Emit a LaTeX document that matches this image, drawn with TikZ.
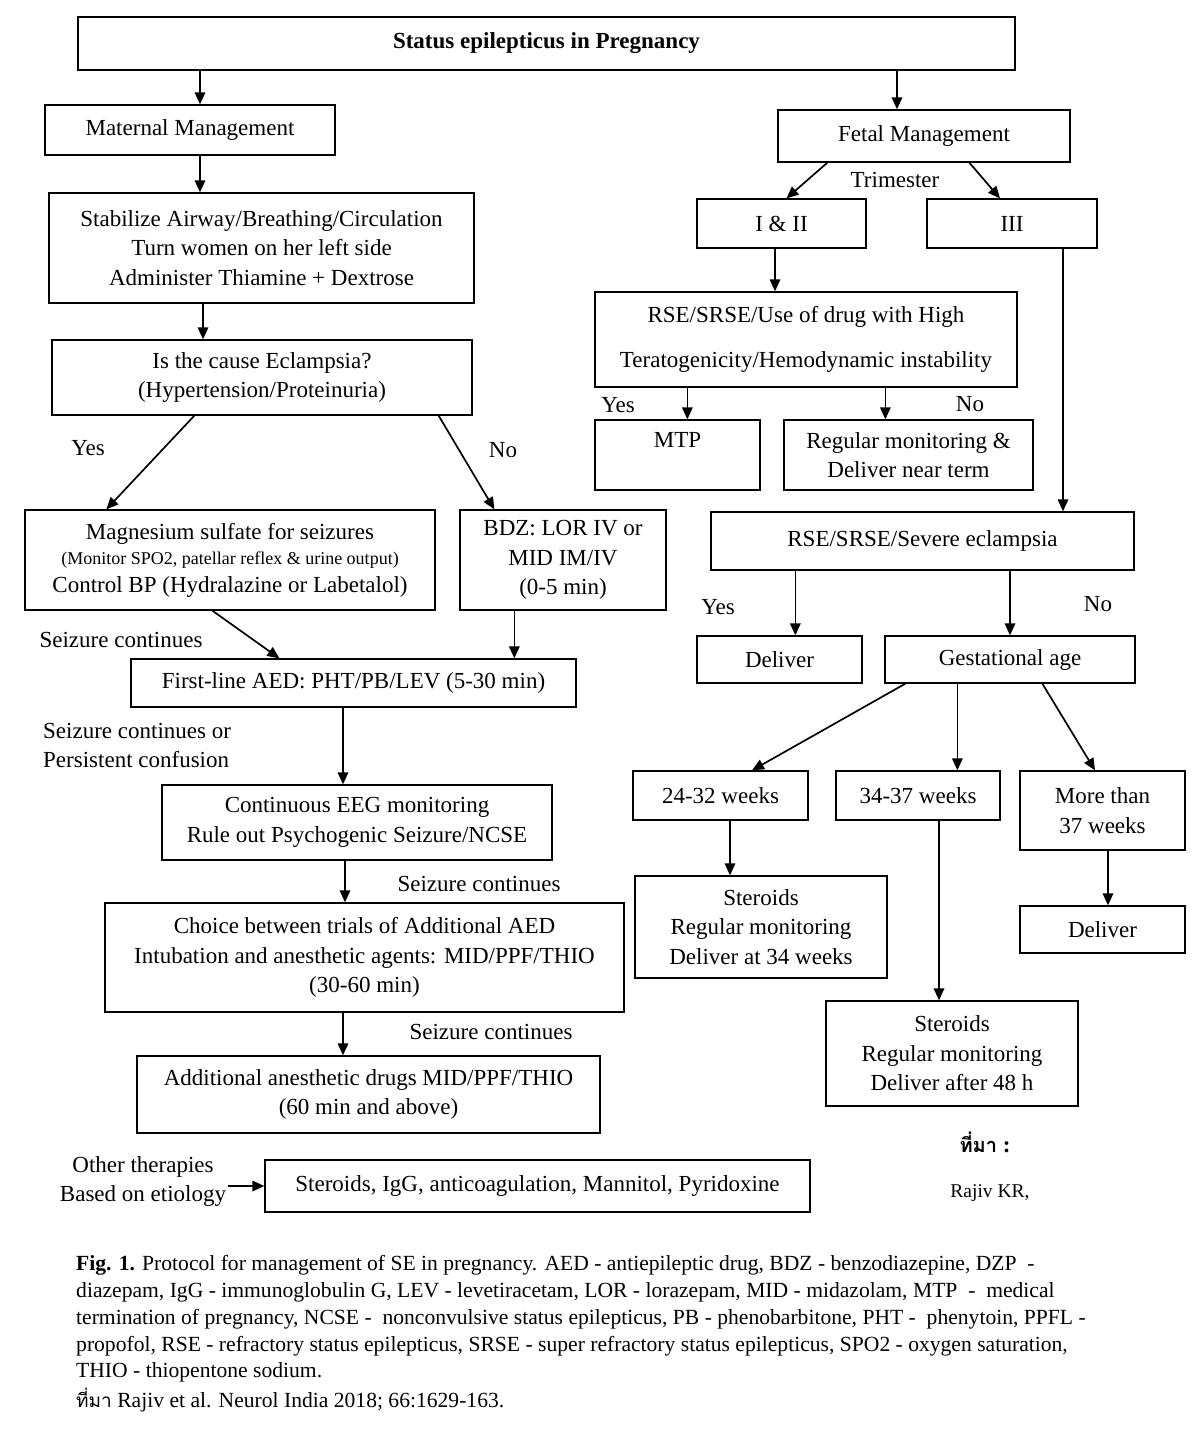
\documentclass[tikz,border=0pt]{standalone}
\usepackage{fontspec}
\setmainfont{Liberation Serif}
\newfontfamily\thaifont[Script=Thai]{Loma}
\usetikzlibrary{arrows.meta,calc}
\begin{document}
\begin{tikzpicture}[x=1pt,y=-1pt,
 box/.style={draw, line width=1.3pt, inner sep=0pt, align=center, font=\fontsize{23}{29.5}\selectfont},
 lbl/.style={inner sep=0pt, font=\fontsize{23}{29.5}\selectfont, align=center},
 arr/.style={line width=1.7pt, -{Triangle[length=12pt,width=10.5pt]}},
 captxt/.style={anchor=base west, inner sep=0pt, font=\fontsize{21.6}{27}\selectfont}]
\useasboundingbox[fill=white] (0,0) rectangle (1200,1430);

% ---------- left column ----------
\node[box, minimum width=937pt, minimum height=53pt] (title) at (546.5,43.5) {\bfseries Status epilepticus in Pregnancy};
\node[box, minimum width=290pt, minimum height=50pt] (mat) at (190,130) {Maternal Management};
\node[box, minimum width=425pt, minimum height=110pt] (stab) at (261.5,248) {Stabilize Airway/Breathing/Circulation\\Turn women on her left side\\Administer Thiamine + Dextrose};
\node[box, minimum width=420pt, minimum height=75pt] (ecl) at (262,377.5) {Is the cause Eclampsia?\\(Hypertension/Proteinuria)};
\node[box, minimum width=410pt, minimum height=100pt] (mag) at (230,560) {Magnesium sulfate for seizures\\[-4.5pt]{\fontsize{18}{22}\selectfont (Monitor SPO2, patellar reflex \& urine output)}\\[-1.5pt]Control BP (Hydralazine or Labetalol)};
\node[box, minimum width=206pt, minimum height=100pt] (bdz) at (563,560) {BDZ: LOR IV or\\MID IM/IV\\(0-5 min)};
\node[box, minimum width=445pt, minimum height=48pt] (first) at (353.5,683) {First-line AED: PHT/PB/LEV (5-30 min)};
\node[box, minimum width=390pt, minimum height=75pt] (eeg) at (357,822.5) {Continuous EEG monitoring\\Rule out Psychogenic Seizure/NCSE};
\node[box, minimum width=519pt, minimum height=109pt] (choice) at (364.5,957.5) {Choice between trials of Additional AED\\Intubation and anesthetic agents: MID/PPF/THIO\\(30-60 min)};
\node[box, minimum width=463pt, minimum height=77pt] (addl) at (368.5,1094.5) {Additional anesthetic drugs MID/PPF/THIO\\(60 min and above)};
\node[box, minimum width=545pt, minimum height=52pt] (other) at (537.5,1186) {Steroids, IgG, anticoagulation, Mannitol, Pyridoxine};

\node[lbl] (yesL) at (88,448) {Yes};
\node[lbl] (noL) at (503,450) {No};
\node[lbl] (sc1) at (121,640) {Seizure continues};
\node[lbl, anchor=west, align=left] (sc2) at (43,745.5) {Seizure continues or\\Persistent confusion};
\node[lbl] (sc3) at (479,884) {Seizure continues};
\node[lbl] (sc4) at (491,1032) {Seizure continues};
\node[lbl] (othtxt) at (143,1181.5) {Other therapies\\Based on etiology};

% ---------- right column ----------
\node[box, minimum width=292pt, minimum height=52pt] (fet) at (924,136) {Fetal Management};
\node[box, minimum width=169pt, minimum height=49pt] (t12) at (781.5,223.5) {I \& II};
\node[box, minimum width=170pt, minimum height=49pt] (t3) at (1012,223.5) {III};
\node[box, minimum width=422pt, minimum height=95pt] (rse1) at (806,339.5) {RSE/SRSE/Use of drug with High\\[15pt]Teratogenicity/Hemodynamic instability};
\node[box, minimum width=165pt, minimum height=70pt] (mtp) at (677.5,455) {MTP\\\mbox{}};
\node[box, minimum width=249pt, minimum height=70pt] (reg) at (908.5,455) {Regular monitoring \&\\Deliver near term};
\node[box, minimum width=423pt, minimum height=58pt] (rse2) at (922.5,541) {RSE/SRSE/Severe eclampsia};
\node[box, minimum width=165pt, minimum height=47pt] (del1) at (779.5,659.5) {Deliver};
\node[box, minimum width=250pt, minimum height=47pt] (gest) at (1010,659.5) {Gestational age};
\node[box, minimum width=175pt, minimum height=49pt] (w24) at (720.5,795.5) {24-32 weeks};
\node[box, minimum width=164pt, minimum height=49pt] (w34) at (918,795.5) {34-37 weeks};
\node[box, minimum width=165pt, minimum height=79pt] (w37) at (1102.5,810.5) {More than\\37 weeks};
\node[box, minimum width=252pt, minimum height=102pt] (st1) at (761,927) {Steroids\\Regular monitoring\\Deliver at 34 weeks};
\node[box, minimum width=252pt, minimum height=105pt] (st2) at (952,1053.5) {Steroids\\Regular monitoring\\Deliver after 48 h};
\node[box, minimum width=165pt, minimum height=47pt] (del2) at (1102.5,929.5) {Deliver};

\node[lbl] (trim) at (895,180) {Trimester};
\node[lbl] (yesR1) at (618,405) {Yes};
\node[lbl] (noR1) at (970,404) {No};
\node[lbl] (yesR2) at (718,607) {Yes};
\node[lbl] (noR2) at (1098,604) {No};
\node[lbl] (src) at (985,1142) {{\thaifont\bfseries\fontsize{20}{24}\selectfont ที่มา} \textbf{:}};
\node[lbl, font=\fontsize{19.5}{24}\selectfont] (rajiv) at (990,1193) {Rajiv KR,};

% ---------- connectors left ----------
\draw[arr] ([xshift=10pt]mat.north |- title.south) -- ([xshift=10pt]mat.north);
\draw[arr] ([xshift=-27pt]fet.north |- title.south) -- ([xshift=-27pt]fet.north);
\draw[arr] ([xshift=10pt]mat.south) -- ([xshift=10pt]mat.south |- stab.north);
\draw[arr] ([xshift=-58.5pt]stab.south) -- ([xshift=-58.5pt]stab.south |- ecl.north);
\draw[arr] ([xshift=143pt]ecl.south west) -- ([xshift=82pt]mag.north west);
\draw[arr] ([xshift=-34pt]ecl.south east) -- ([xshift=35pt]bdz.north west);
\draw[arr] ([xshift=188pt]mag.south west) -- ([xshift=149pt]first.north west);
\draw[arr] ([xshift=55pt]bdz.south west) -- ([xshift=55pt]bdz.south west |- first.north);
\draw[arr] ([xshift=-10.5pt]first.south) -- ([xshift=-10.5pt]first.south |- eeg.north);
\draw[arr] ([xshift=-12pt]eeg.south) -- ([xshift=-12pt]eeg.south |- choice.north);
\draw[arr] ([xshift=-21.5pt]choice.south) -- ([xshift=-21.5pt]choice.south |- addl.north);
\draw[arr] ([xshift=2pt]othtxt.east |- other.west) -- (other.west);

% ---------- connectors right ----------
\draw[arr] ([xshift=50pt]fet.south west) -- ([xshift=5pt]t12.north);
\draw[arr] ([xshift=192pt]fet.south west) -- ([xshift=-12pt]t3.north);
\draw[arr] ([xshift=-6.5pt]t12.south) -- ([xshift=-6.5pt]t12.south |- rse1.north);
\draw[arr] ([xshift=51pt]t3.south) -- ([xshift=51pt]t3.south |- rse2.north);
\draw[arr] ([xshift=93pt]rse1.south west) -- ([xshift=93pt]rse1.south west |- mtp.north);
\draw[arr] ([xshift=291pt]rse1.south west) -- ([xshift=291pt]rse1.south west |- reg.north);
\draw[arr] ([xshift=85pt]rse2.south west) -- ([xshift=85pt]rse2.south west |- del1.north);
\draw[arr] (gest.north |- rse2.south) -- (gest.north);
\draw[arr] ([xshift=21pt]gest.south west) -- ([xshift=31.5pt]w24.north);
\draw[arr] ([xshift=73pt]gest.south west) -- ([xshift=73pt]gest.south west |- w34.north);
\draw[arr] ([xshift=158pt]gest.south west) -- ([xshift=-7.5pt]w37.north);
\draw[arr] ([xshift=9.5pt]w24.south) -- ([xshift=9.5pt]w24.south |- st1.north);
\draw[arr] ([xshift=21pt]w34.south) -- ([xshift=21pt]w34.south |- st2.north);
\draw[arr] ([xshift=5.5pt]w37.south) -- ([xshift=5.5pt]w37.south |- del2.north);

% ---------- caption ----------
\node[captxt] (c1) at (76,1270) {\textbf{Fig. 1.} Protocol for management of SE in pregnancy. AED - antiepileptic drug, BDZ - benzodiazepine, DZP\ \ -};
\node[captxt] (c2) at (76,1297) {diazepam, IgG - immunoglobulin G, LEV - levetiracetam, LOR - lorazepam, MID - midazolam, MTP\ \ -\ \ medical};
\node[captxt] (c3) at (76,1324) {termination of pregnancy, NCSE -\ \ nonconvulsive status epilepticus, PB - phenobarbitone, PHT -\ \ phenytoin, PPFL -};
\node[captxt] (c4) at (76,1351) {propofol, RSE - refractory status epilepticus, SRSE - super refractory status epilepticus, SPO2 - oxygen saturation,};
\node[captxt] (c5) at (76,1377) {THIO - thiopentone sodium.};
\node[captxt] (c6) at (76,1407) {{\thaifont\fontsize{19}{24}\selectfont ที่มา} Rajiv et al. Neurol India 2018; 66:1629-163.};
\end{tikzpicture}
\end{document}
